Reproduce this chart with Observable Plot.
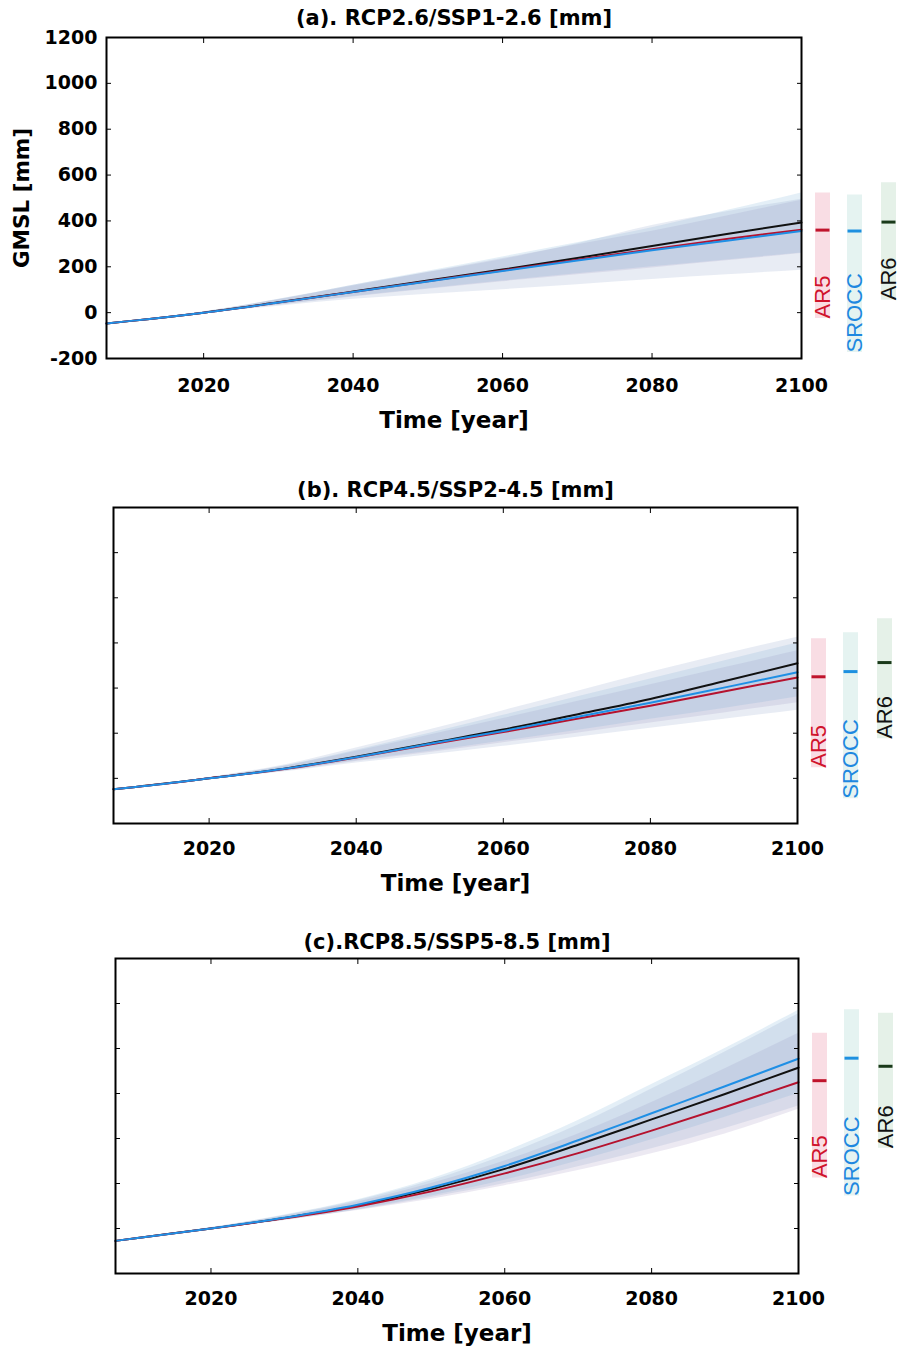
<!DOCTYPE html>
<html>
<head>
<meta charset="utf-8">
<script src="https://cdn.jsdelivr.net/npm/d3@7"></script>
<script src="https://cdn.jsdelivr.net/npm/@observablehq/plot@0.6"></script>
<style>
  body { margin: 0; background: #fff; }
  #chart { width: 901px; }
  #chart svg { display: block; }
  g[aria-label="panel-title"] text { letter-spacing: 0.3px; }
</style>
</head>
<body>
<div id="chart"></div>
<script>
// ---------- data ----------
const years = [2007, 2010, 2020, 2030, 2040, 2050, 2060, 2070, 2080, 2090, 2100];
const xTicks = [2020, 2040, 2060, 2080, 2100];
const yTicks = [-200, 0, 200, 400, 600, 800, 1000, 1200];
const sources = ["AR5", "SROCC", "AR6"];
const panelTitles = ["(a). RCP2.6/SSP1-2.6 [mm]", "(b). RCP4.5/SSP2-4.5 [mm]", "(c).RCP8.5/SSP5-8.5 [mm]"];
const xLabel = "Time [year]";
const yLabel = "GMSL [mm]";

// (a) RCP2.6 / SSP1-2.6
const a_AR5      = [-47, -37, 0, 44, 90, 137, 184, 231, 277, 321, 362];
const a_SROCC    = [-47, -37, 0, 44, 90, 136, 182, 227, 272, 314, 356];
const a_AR6      = [-47, -37, 0, 45, 92, 140, 188, 238, 291, 343, 393];
const a_AR5_lo   = [-47, -37, -3, 32, 68, 102, 135, 165, 195, 226, 258];
const a_AR5_hi   = [-47, -37, 3, 57, 116, 176, 236, 296, 355, 422, 490];
const a_SROCC_lo = [-47, -37, -3, 33, 70, 104, 138, 170, 200, 230, 260];
const a_SROCC_hi = [-47, -37, 3, 58, 120, 180, 243, 305, 370, 445, 522];
const a_AR6_lo   = [-47, -37, -4, 28, 58, 80, 100, 122, 145, 165, 185];
const a_AR6_hi   = [-47, -37, 4, 56, 120, 175, 232, 300, 380, 440, 495];
const a_end_lo   = [-25, -174, 54];
const a_end_hi   = [522, 513, 566];
const a_end_mid  = [360, 356, 395];

// (b) RCP4.5 / SSP2-4.5
const b_AR5      = [-48, -38, 0, 40, 92, 150, 205, 264, 322, 385, 447];
const b_SROCC    = [-48, -38, 0, 41, 94, 153, 210, 272, 335, 402, 470];
const b_AR6      = [-48, -38, 0, 42, 96, 156, 216, 283, 352, 430, 510];
const b_AR5_lo   = [-48, -38, -3, 30, 75, 115, 158, 200, 245, 290, 335];
const b_AR5_hi   = [-48, -38, 3, 52, 120, 192, 265, 340, 415, 490, 565];
const b_SROCC_lo = [-48, -38, -3, 32, 78, 120, 165, 212, 262, 310, 360];
const b_SROCC_hi = [-48, -38, 3, 54, 125, 200, 280, 360, 440, 520, 600];
const b_AR6_lo   = [-48, -38, -4, 28, 68, 105, 142, 182, 222, 262, 302];
const b_AR6_hi   = [-48, -38, 4, 58, 135, 215, 300, 385, 470, 550, 625];
const b_end_lo   = [47, -90, 175];
const b_end_hi   = [618, 645, 707];
const b_end_mid  = [450, 473, 513];

// (c) RCP8.5 / SSP5-8.5
const c_AR5      = [-55, -42, 0, 45, 98, 165, 245, 335, 435, 540, 650];
const c_SROCC    = [-55, -42, 0, 48, 106, 182, 278, 392, 512, 632, 755];
const c_AR6      = [-55, -42, 0, 47, 102, 175, 265, 372, 485, 598, 715];
const c_AR5_lo   = [-55, -42, -3, 36, 80, 130, 190, 258, 332, 420, 530];
const c_AR5_hi   = [-55, -42, 3, 56, 118, 200, 300, 420, 560, 710, 868];
const c_SROCC_lo = [-55, -42, -3, 38, 85, 145, 215, 300, 395, 495, 600];
const c_SROCC_hi = [-55, -42, 3, 60, 128, 220, 340, 480, 640, 800, 970];
const c_AR6_lo   = [-55, -42, -4, 36, 82, 138, 200, 275, 355, 445, 545];
const c_AR6_hi   = [-55, -42, 4, 58, 124, 212, 325, 460, 620, 785, 955];
const c_end_lo   = [224, 145, 357];
const c_end_hi   = [868, 972, 957];
const c_end_mid  = [657, 757, 721];

// ---------- styles ----------
const lineColor  = {AR5: "#b5122e", SROCC: "#1f8fe5", AR6: "#111111"};
const bandColor  = {AR5: "#a090c0", SROCC: "#78b0d8", AR6: "#8ca0c8"};
const barColor   = {AR5: "#f9dde4", SROCC: "#e5f3f1", AR6: "#e5f1e8"};
const textColor  = {AR5: "#d0142c", SROCC: "#1e88e0", AR6: "#111111"};
const tickColor  = {AR5: "#c0142c", SROCC: "#1e90e0", AR6: "#1a3a1a"};
const endOffsets = [21, 53, 87];
const FONT_BOLD = "DejaVu Sans";
const hbar = {draw(context) { context.moveTo(-7, 0); context.lineTo(7, 0); }};

const panels = [
  {title: panelTitles[0], showY: true,
   series: {AR5: [a_AR5, a_AR5_lo, a_AR5_hi], SROCC: [a_SROCC, a_SROCC_lo, a_SROCC_hi], AR6: [a_AR6, a_AR6_lo, a_AR6_hi]},
   end: [a_end_lo, a_end_hi, a_end_mid],
   layout: {height: 448, marginTop: 37, marginBottom: 90, marginLeft: 106, marginRight: 100, titleDy: -19, tickPad: 20, xLabelDy: 62}},
  {title: panelTitles[1], showY: false,
   series: {AR5: [b_AR5, b_AR5_lo, b_AR5_hi], SROCC: [b_SROCC, b_SROCC_lo, b_SROCC_hi], AR6: [b_AR6, b_AR6_lo, b_AR6_hi]},
   end: [b_end_lo, b_end_hi, b_end_mid],
   layout: {height: 450, marginTop: 59, marginBottom: 75, marginLeft: 113, marginRight: 104, titleDy: -17, tickPad: 18, xLabelDy: 60}},
  {title: panelTitles[2], showY: false,
   series: {AR5: [c_AR5, c_AR5_lo, c_AR5_hi], SROCC: [c_SROCC, c_SROCC_lo, c_SROCC_hi], AR6: [c_AR6, c_AR6_lo, c_AR6_hi]},
   end: [c_end_lo, c_end_hi, c_end_mid],
   layout: {height: 450, marginTop: 60, marginBottom: 75, marginLeft: 115, marginRight: 103, titleDy: -16, tickPad: 18, xLabelDy: 60}}
];

const endYear = years[years.length - 1];

function makePanel(p) {
  const L = p.layout;
  const rows = {};
  for (const s of sources) {
    const [mid, lo, hi] = p.series[s];
    rows[s] = years.map((year, i) => ({year, source: s, mid: mid[i], lo: lo[i], hi: hi[i]}));
  }
  const endRows = sources.map((s, i) => ({source: s, year: endYear, lo: p.end[0][i], hi: p.end[1][i], mid: p.end[2][i]}));

  const marks = [];
  // uncertainty bands
  for (const s of sources) {
    marks.push(Plot.areaY(rows[s], {x: "year", y1: "lo", y2: "hi", fill: bandColor[s], fillOpacity: 0.2, curve: "monotone-x"}));
  }
  // median lines
  for (const s of ["AR6", "AR5", "SROCC"]) {
    marks.push(Plot.line(rows[s], {x: "year", y: "mid", stroke: lineColor[s], strokeWidth: 2, curve: "monotone-x"}));
  }
  // end-of-century ranges beside the frame
  sources.forEach((s, i) => {
    const d = [endRows[i]];
    marks.push(Plot.ruleX(d, {x: "year", y1: "lo", y2: "hi", stroke: barColor[s], strokeWidth: 15, dx: endOffsets[i]}));
    marks.push(Plot.dot(d, {x: "year", y: "mid", symbol: hbar, r: 1, fill: "none", stroke: tickColor[s], strokeWidth: 3, dx: endOffsets[i]}));
    marks.push(Plot.text(d, {x: "year", y: "lo", text: "source", rotate: -90, textAnchor: "start", lineAnchor: "middle",
      dx: endOffsets[i], fill: textColor[s], fontSize: 22, fontWeight: "normal", fontFamily: "Liberation Sans"}));
  });
  // axes (MATLAB style: inward ticks on all four sides)
  marks.push(Plot.axisX(xTicks, {anchor: "bottom", tickSize: -5, fill: "none", label: null}));
  marks.push(Plot.axisX(xTicks, {anchor: "top", tickSize: -5, fill: "none", label: null}));
  marks.push(Plot.axisY(yTicks, {anchor: "left", tickSize: -5, fill: "none", label: null}));
  marks.push(Plot.axisY(yTicks, {anchor: "right", tickSize: -5, fill: "none", label: null}));
  marks.push(Plot.axisX(xTicks, {anchor: "bottom", tickSize: 0, tickPadding: L.tickPad, label: null, tickFormat: d => String(d)}));
  if (p.showY) {
    marks.push(Plot.axisY(yTicks, {anchor: "left", tickSize: 0, tickPadding: 9, label: null, tickFormat: d => String(d)}));
    marks.push(Plot.text([yLabel], {frameAnchor: "left", rotate: -90, dx: -84, lineAnchor: "middle", textAnchor: "middle", fontSize: 21.5, fontWeight: "bold"}));
  }
  marks.push(Plot.frame({stroke: "black", strokeWidth: 2}));
  marks.push(Plot.text([p.title], {frameAnchor: "top", dy: L.titleDy, lineAnchor: "middle", fontSize: 21, fontWeight: "bold", ariaLabel: "panel-title"}));
  marks.push(Plot.text([xLabel], {frameAnchor: "bottom", dy: L.xLabelDy, lineAnchor: "middle", fontSize: 23, fontWeight: "bold"}));

  return Plot.plot({
    width: 901,
    height: L.height,
    marginTop: L.marginTop,
    marginBottom: L.marginBottom,
    marginLeft: L.marginLeft,
    marginRight: L.marginRight,
    x: {domain: [2007, 2100]},
    y: {domain: [-200, 1200]},
    style: {fontFamily: FONT_BOLD, fontSize: "19px", fontWeight: "bold", color: "black", background: "white", overflow: "visible"},
    marks
  });
}

const chart = document.getElementById("chart");
for (const p of panels) chart.appendChild(makePanel(p));
</script>
</body>
</html>
